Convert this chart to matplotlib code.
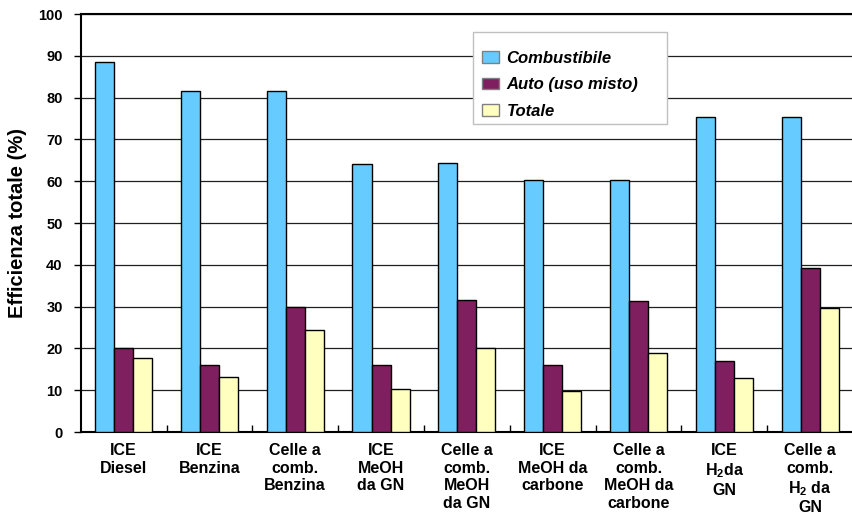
import numpy as np
import matplotlib
matplotlib.use("Agg")
import matplotlib.pyplot as plt
from matplotlib.patches import Rectangle

plt.rcParams['font.family'] = ['Liberation Sans', 'DejaVu Sans']
plt.rcParams['mathtext.fontset'] = 'custom'
plt.rcParams['mathtext.bf'] = 'Liberation Sans:bold'
plt.rcParams['mathtext.rm'] = 'Liberation Sans:bold'

categories = ["ICE\nDiesel", "ICE\nBenzina", "Celle a\ncomb.\nBenzina",
              "ICE\nMeOH\nda GN", "Celle a\ncomb.\nMeOH\nda GN",
              "ICE\nMeOH da\ncarbone", "Celle a\ncomb.\nMeOH da\ncarbone",
              "ICE\nH$_\\mathbf{2}$da\nGN", "Celle a\ncomb.\nH$_\\mathbf{2}$ da\nGN"]
combustibile = [88.5, 81.7, 81.7, 64.1, 64.3, 60.4, 60.4, 75.4, 75.4]
auto = [20.2, 16.1, 29.9, 16.1, 31.5, 16.1, 31.3, 17.1, 39.2]
totale = [17.8, 13.2, 24.3, 10.4, 20.2, 9.7, 19.0, 12.9, 29.6]
series_names = ["Combustibile", "Auto (uso misto)", "Totale"]
colors = ["#66CCFF", "#7F1F5F", "#FFFFC0"]

fig = plt.figure(figsize=(8.53, 5.22), dpi=100)
ax = fig.add_axes([0.0946, 0.1724, 1.0 - 0.0946, 0.973 - 0.1724])

x = np.arange(len(categories))
w = 0.222
for i, (vals, name, c) in enumerate(zip([combustibile, auto, totale], series_names, colors)):
    ax.bar(x + (i - 1) * w, vals, w, color=c, edgecolor='black', linewidth=1.0,
           label=name, zorder=3)

ax.set_xlim(-0.5, len(categories) - 0.5)
ax.set_ylim(0, 100)
ax.set_yticks(range(0, 101, 10))
ax.yaxis.grid(True, color='#202020', linewidth=0.9, zorder=0)
ax.set_axisbelow(True)

ax.spines['right'].set_visible(False)
for s in ['left', 'bottom', 'top']:
    ax.spines[s].set_linewidth(1.5)
    ax.spines[s].set_color('black')

ax.set_xticks(x)
ax.set_xticklabels(categories, fontsize=11.5, fontweight='bold', va='top', linespacing=1.22)
ax.tick_params(axis='x', length=0, pad=8)
ax.set_xticks(np.arange(0.5, len(categories) - 1, 1), minor=True)
ax.tick_params(axis='x', which='minor', direction='in', length=5, width=1)
ax.tick_params(axis='y', direction='out', length=5, width=1, labelsize=10.5, pad=8)
for lab in ax.get_yticklabels():
    lab.set_fontweight('bold')

ax.set_ylabel("Efficienza totale (%)", fontsize=14.5, fontweight='bold', labelpad=8)

# legend box (white, grey border) drawn separately, entries placed inside it
ax.add_patch(Rectangle((473 / 853, 1 - 124 / 522), 194 / 853, 92 / 522,
                       transform=fig.transFigure, facecolor='white', clip_on=False,
                       edgecolor='#C0C0C0', linewidth=1.0, zorder=5))
leg = ax.legend(loc='upper left', bbox_to_anchor=(482 / 853, 1 - 51 / 522),
                bbox_transform=fig.transFigure, frameon=False,
                prop={'size': 12, 'weight': 'bold', 'style': 'italic'},
                handlelength=1.0, handleheight=0.72, labelspacing=0.68,
                borderpad=0, handletextpad=0.46, borderaxespad=0)
leg.set_zorder(6)
for h in leg.legend_handles:
    h.set_edgecolor('#808080')

fig.savefig("out.png", dpi=100)
